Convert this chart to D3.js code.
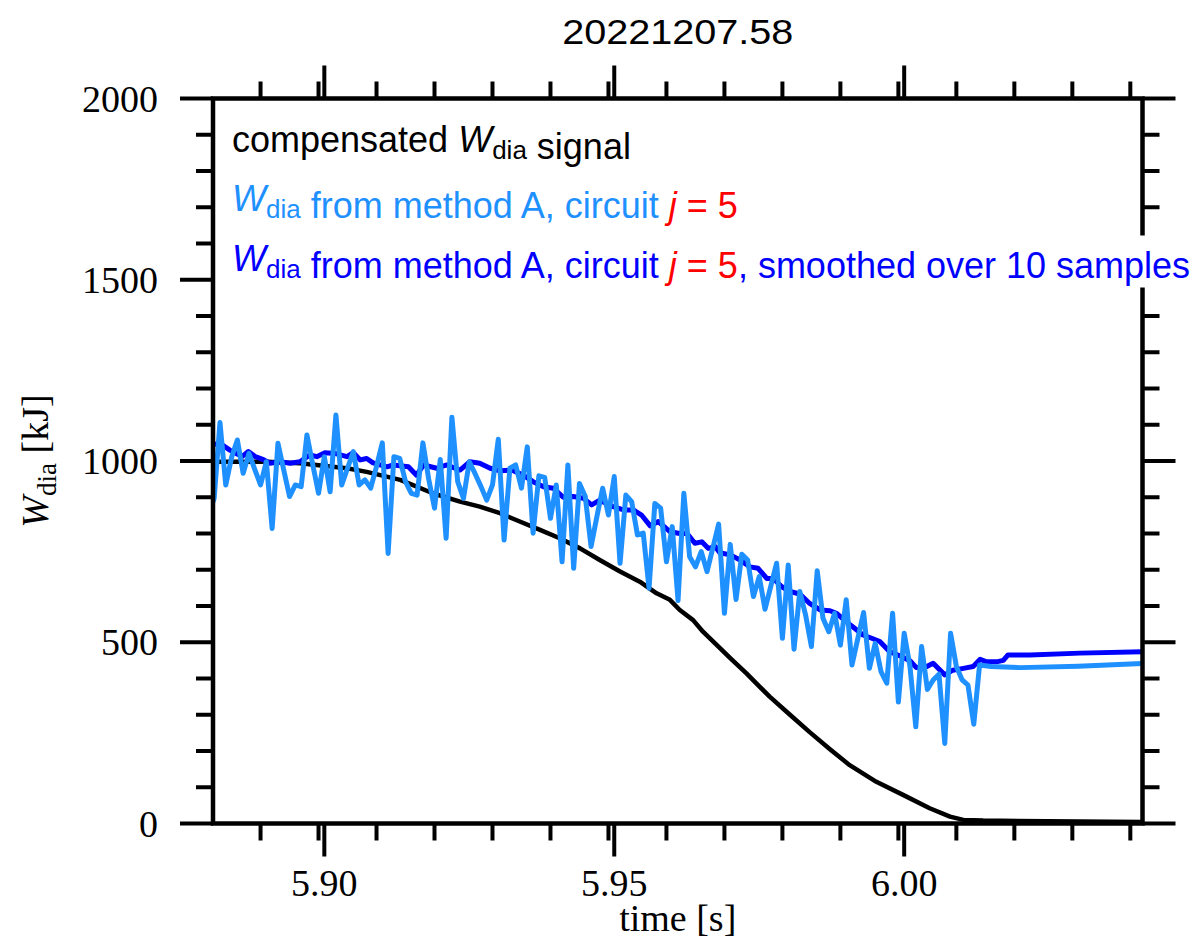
<!DOCTYPE html>
<html>
<head>
<meta charset="utf-8">
<script src="https://cdn.jsdelivr.net/npm/d3@7"></script>
<style>
  body { margin: 0; background: #fff; }
  svg { display: block; }
</style>
</head>
<body>
<script>
// W_dia traces around the 20221207.58 disruption
let titleText = '20221207.58';

// compensated W_dia signal (black)
let compT = [5.8808, 5.8812, 5.8901, 5.8958, 5.9039, 5.9073, 5.9131, 5.9187, 5.9234, 5.9268,
    5.9303, 5.9337, 5.9372, 5.9406, 5.9441, 5.9475, 5.9510, 5.9544, 5.9573, 5.9596,
    5.9613, 5.9636, 5.9653, 5.9677, 5.9700, 5.9728, 5.9751, 5.9768, 5.9803, 5.9837,
    5.9872, 5.9906, 5.9952, 5.9998, 6.0044, 6.0079, 6.0102, 6.0136, 6.0411];
let compW = [998, 998, 998, 994, 980, 970, 948, 911, 888, 874,
    856, 833, 810, 787, 759, 727, 695, 667, 635, 617,
    589, 561, 529, 492, 456, 414, 377, 350, 300, 252,
    205, 161, 115, 79, 42, 19, 10, 8, 4];

// method A, circuit j = 5, raw (1 ms samples, then a few after the quench)
let rawT = d3.range(5880, 6014).map(k => k / 1000)
    .concat([6.015, 6.020, 6.030, 6.040, 6.045]);
let rawW = [850, 897, 1106, 934, 1010, 1058, 966, 1021, 977, 934,
    998, 814, 1049, 975, 902, 934, 929, 1072, 990, 911,
    1012, 915, 1127, 934, 980, 1026, 934, 948, 925, 985,
    1050, 745, 1012, 1007, 943, 911, 906, 1050, 950, 870,
    1004, 787, 1121, 943, 897, 998, 965, 930, 892, 934,
    1060, 782, 980, 989, 925, 1039, 801, 959, 955, 842,
    934, 722, 989, 704, 938, 902, 764, 846, 925, 851,
    957, 718, 906, 888, 796, 801, 649, 883, 870, 722,
    819, 615, 911, 736, 708, 750, 695, 760, 826, 580,
    770, 618, 743, 727, 626, 681, 591, 655, 718, 511,
    713, 481, 640, 575, 488, 697, 566, 529, 580, 492,
    617, 437, 510, 582, 428, 497, 419, 387, 580, 335,
    525, 433, 267, 488, 370, 396, 412, 221, 525, 433,
    396, 382, 274, 437,
    433, 430, 434, 441, 442];

// method A, circuit j = 5, smoothed over 10 samples
let smoothT = [5.8806, 5.8820, 5.8837, 5.8858, 5.8869, 5.8881, 5.8895, 5.8906, 5.8924, 5.8941,
    5.8958, 5.8975, 5.8987, 5.9001, 5.9018, 5.9039, 5.9050, 5.9062, 5.9073, 5.9084,
    5.9108, 5.9119, 5.9145, 5.9159, 5.9171, 5.9194, 5.9211, 5.9234, 5.9251, 5.9268,
    5.9286, 5.9303, 5.9323, 5.9343, 5.9360, 5.9378, 5.9395, 5.9412, 5.9429, 5.9447,
    5.9461, 5.9475, 5.9498, 5.9516, 5.9533, 5.9547, 5.9562, 5.9576, 5.9596, 5.9613,
    5.9625, 5.9639, 5.9651, 5.9662, 5.9674, 5.9682, 5.9700, 5.9717, 5.9734, 5.9748,
    5.9763, 5.9774, 5.9789, 5.9803, 5.9820, 5.9837, 5.9855, 5.9872, 5.9883, 5.9900,
    5.9915, 5.9929, 5.9944, 5.9958, 5.9975, 5.9993, 6.0010, 6.0021, 6.0039, 6.0050,
    6.0070, 6.0084, 6.0102, 6.0119, 6.0131, 6.0142, 6.0159, 6.0171, 6.0179, 6.0217,
    6.0303, 6.0411];
let smoothW = [1044, 1049, 1030, 1012, 1026, 1012, 1004, 994, 998, 994,
    998, 1017, 1012, 1023, 1021, 1012, 1023, 1003, 1007, 995,
    984, 989, 984, 961, 989, 980, 989, 975, 998, 994,
    980, 973, 975, 961, 943, 929, 925, 900, 902, 897,
    879, 892, 874, 865, 865, 851, 821, 833, 805, 800,
    801, 773, 777, 759, 764, 747, 741, 727, 708, 704,
    676, 676, 653, 640, 633, 607, 589, 587, 580, 557,
    538, 520, 511, 502, 474, 462, 449, 430, 433, 442,
    410, 423, 428, 433, 453, 446, 446, 450, 465, 465,
    470, 474];

let xMajor = [5.90, 5.95, 6.00];
let xMinor = d3.range(5889, 6041, 10).map(k => k / 1000);
let yMajor = [0, 500, 1000, 1500, 2000];
let yMinor = d3.range(0, 2001, 100);

let margin = {top: 98.5, right: 55.5, bottom: 117.5, left: 213},
    width = 1198 - margin.left - margin.right,
    height = 941 - margin.top - margin.bottom;

let svg = d3.select('body').append('svg')
    .attr('width', 1198)
    .attr('height', 941);

let g = svg.append('g')
    .attr('transform', 'translate(' + margin.left + ',' + margin.top + ')');

let x = d3.scaleLinear().domain([5.8808, 6.0411]).range([0, width]);
let y = d3.scaleLinear().domain([0, 2000]).range([height, 0]);

g.append('clipPath').attr('id', 'clip')
    .append('rect').attr('width', width).attr('height', height);

let line = d3.line()
    .x(d => x(d[0]))
    .y(d => y(d[1]));

let series = [
    {t: compT, w: compW, color: '#000000', lw: 4.5},
    {t: smoothT, w: smoothW, color: '#0000ff', lw: 5},
    {t: rawT, w: rawW, color: '#1e90ff', lw: 5}
];

let plot = g.append('g').attr('clip-path', 'url(#clip)');
series.forEach(s => {
    plot.append('path')
        .attr('d', line(s.t.map((t, i) => [t, s.w[i]])))
        .attr('fill', 'none')
        .attr('stroke', s.color)
        .attr('stroke-width', s.lw)
        .attr('stroke-linejoin', 'round');
});

// ticks on all four sides, pointing outward
let tickW = 4;
function drawTicks(axis, vals, len) {
    let sel = g.append('g');
    vals.forEach(v => {
        if (axis === 'x') {
            sel.append('line').attr('x1', x(v)).attr('x2', x(v)).attr('y1', height).attr('y2', height + len);
            sel.append('line').attr('x1', x(v)).attr('x2', x(v)).attr('y1', 0).attr('y2', -len);
        } else {
            sel.append('line').attr('y1', y(v)).attr('y2', y(v)).attr('x1', 0).attr('x2', -len);
            sel.append('line').attr('y1', y(v)).attr('y2', y(v)).attr('x1', width).attr('x2', width + len);
        }
    });
    sel.selectAll('line').attr('stroke', '#000').attr('stroke-width', tickW);
}
drawTicks('x', xMinor.filter(v => !xMajor.some(m => Math.abs(m - v) < 1e-6)), 17);
drawTicks('x', xMajor, 33);
drawTicks('y', yMinor.filter(v => v % 500 !== 0), 17);
drawTicks('y', yMajor, 33);

// frame
g.append('rect')
    .attr('width', width).attr('height', height)
    .attr('fill', 'none').attr('stroke', '#000').attr('stroke-width', 4.5);

// legend texts (white box behind the long third line)
let legend = g.append('g').attr('font-family', 'Liberation Sans, Arial, sans-serif')
    .attr('font-size', 36);

function wdia(sel, color) {
    sel.append('tspan').attr('font-style', 'italic').attr('fill', color).text('W');
    sel.append('tspan').attr('font-size', 26).attr('dy', 7).attr('fill', color).text('dia');
    sel.append('tspan').attr('dy', -7).text('');
}

let bg = legend.append('rect').attr('fill', '#fff');

let l1 = legend.append('text').attr('x', 19).attr('y', 53).attr('fill', '#000');
l1.append('tspan').text('compensated ');
wdia(l1, '#000');
l1.append('tspan').text(' signal');

let l2 = legend.append('text').attr('x', 19).attr('y', 112).attr('fill', '#1e90ff');
wdia(l2, '#1e90ff');
l2.append('tspan').text(' from method A, circuit ');
l2.append('tspan').attr('fill', '#ff0000').attr('font-style', 'italic').text('j');
l2.append('tspan').attr('fill', '#ff0000').text(' = 5');

let l3 = legend.append('text').attr('x', 19).attr('y', 172).attr('fill', '#0000ff');
wdia(l3, '#0000ff');
l3.append('tspan').text(' from method A, circuit ');
l3.append('tspan').attr('fill', '#ff0000').attr('font-style', 'italic').text('j');
l3.append('tspan').attr('fill', '#ff0000').text(' = 5');
l3.append('tspan').text(', smoothed over 10 samples');

let bb = l3.node().getBBox();
bg.attr('x', bb.x - 4).attr('y', bb.y - 2).attr('width', bb.width + 8).attr('height', bb.height + 4);

// tick labels
let tl = g.append('g').attr('font-family', 'Liberation Serif, Times New Roman, serif')
    .attr('font-size', 38).attr('fill', '#000');
xMajor.forEach(v => {
    tl.append('text').attr('x', x(v)).attr('y', height + 72)
        .attr('text-anchor', 'middle').text(v.toFixed(2));
});
yMajor.forEach(v => {
    tl.append('text').attr('x', -55).attr('y', y(v) + 13)
        .attr('text-anchor', 'end').text(v);
});

// axis labels
svg.append('text')
    .attr('x', margin.left + width / 2).attr('y', 931)
    .attr('text-anchor', 'middle')
    .attr('font-family', 'Liberation Serif, Times New Roman, serif')
    .attr('font-size', 38)
    .text('time [s]');

let yl = svg.append('text')
    .attr('transform', 'translate(48,' + (margin.top + height / 2) + ') rotate(-90)')
    .attr('text-anchor', 'middle')
    .attr('font-family', 'Liberation Serif, Times New Roman, serif')
    .attr('font-size', 38);
yl.append('tspan').attr('font-style', 'italic').text('W');
yl.append('tspan').attr('font-size', 27).attr('dy', 8).text('dia');
yl.append('tspan').attr('dy', -8).text(' [kJ]');

svg.append('text')
    .attr('transform', 'translate(' + (margin.left + width / 2) + ',44) scale(1.1,1)')
    .attr('text-anchor', 'middle')
    .attr('font-family', 'Liberation Sans, Arial, sans-serif')
    .attr('font-size', 36)
    .text(titleText);
</script>
</body>
</html>
